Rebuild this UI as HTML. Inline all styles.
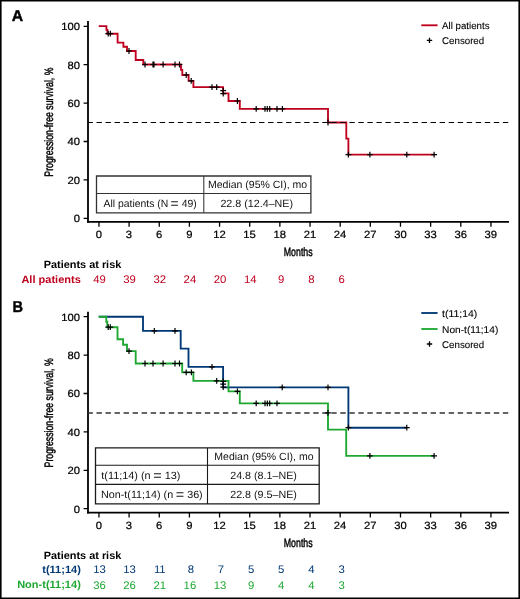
<!DOCTYPE html>
<html lang="en"><head><meta charset="utf-8"><title>Progression-free survival</title>
<style>
html,body{margin:0;padding:0;background:#fff;}
body{width:520px;height:599px;overflow:hidden;}
svg{display:block;font-family:"Liberation Sans",Arial,Helvetica,sans-serif;}
text{stroke-linejoin:round;text-rendering:geometricPrecision;}
.t{font-size:10.5px;fill:#000;stroke:#000;stroke-width:0.22px;}
.n{font-size:11px;stroke-width:0;}
.l{font-size:9.8px;fill:#000;stroke:#000;stroke-width:0.1px;}
.s{font-size:10.5px;fill:#111;}
.b{font-size:10.6px;font-weight:bold;fill:#000;stroke-width:0;}
.c{font-size:12.2px;fill:#000;stroke:#000;stroke-width:0.45px;}
.pl{font-size:15.8px;font-weight:bold;fill:#000;stroke:#000;stroke-width:0.4px;}
</style></head><body>
<svg width="520" height="599" viewBox="0 0 520 599">
<rect x="0" y="0" width="520" height="599" fill="#fff"/>
<path d="M0.8 0.75H519.2V598.2H0.8Z" fill="none" stroke="#000" stroke-width="1.6"/>

<g id="panelA">
<path d="M88 21.00V222.65" fill="none" stroke="#000" stroke-width="1.8"/>
<path d="M87.1 221.80H509" fill="none" stroke="#000" stroke-width="1.7"/>
<path d="M83.6 26.30H88M83.6 64.70H88M83.6 103.10H88M83.6 141.50H88M83.6 179.90H88M83.6 218.30H88M98.95 221.65V226.70M129.10 221.65V226.70M159.26 221.65V226.70M189.41 221.65V226.70M219.57 221.65V226.70M249.72 221.65V226.70M279.87 221.65V226.70M310.03 221.65V226.70M340.18 221.65V226.70M370.33 221.65V226.70M400.49 221.65V226.70M430.64 221.65V226.70M460.80 221.65V226.70M490.95 221.65V226.70" fill="none" stroke="#000" stroke-width="1.3"/>
<text transform="translate(80.00 30.15) scale(1.070 1)" class="t" text-anchor="end">100</text>
<text transform="translate(80.00 68.55) scale(1.070 1)" class="t" text-anchor="end">80</text>
<text transform="translate(80.00 106.95) scale(1.070 1)" class="t" text-anchor="end">60</text>
<text transform="translate(80.00 145.35) scale(1.070 1)" class="t" text-anchor="end">40</text>
<text transform="translate(80.00 183.75) scale(1.070 1)" class="t" text-anchor="end">20</text>
<text transform="translate(80.00 222.15) scale(1.070 1)" class="t" text-anchor="end">0</text>
<text transform="translate(98.85 238.10) scale(1.070 1)" class="t" text-anchor="middle">0</text>
<text transform="translate(129.00 238.10) scale(1.070 1)" class="t" text-anchor="middle">3</text>
<text transform="translate(159.16 238.10) scale(1.070 1)" class="t" text-anchor="middle">6</text>
<text transform="translate(189.31 238.10) scale(1.070 1)" class="t" text-anchor="middle">9</text>
<text transform="translate(219.47 238.10) scale(1.070 1)" class="t" text-anchor="middle">12</text>
<text transform="translate(249.62 238.10) scale(1.070 1)" class="t" text-anchor="middle">15</text>
<text transform="translate(279.77 238.10) scale(1.070 1)" class="t" text-anchor="middle">18</text>
<text transform="translate(309.93 238.10) scale(1.070 1)" class="t" text-anchor="middle">21</text>
<text transform="translate(340.08 238.10) scale(1.070 1)" class="t" text-anchor="middle">24</text>
<text transform="translate(370.23 238.10) scale(1.070 1)" class="t" text-anchor="middle">27</text>
<text transform="translate(400.39 238.10) scale(1.070 1)" class="t" text-anchor="middle">30</text>
<text transform="translate(430.54 238.10) scale(1.070 1)" class="t" text-anchor="middle">33</text>
<text transform="translate(460.70 238.10) scale(1.070 1)" class="t" text-anchor="middle">36</text>
<text transform="translate(490.85 238.10) scale(1.070 1)" class="t" text-anchor="middle">39</text>
<text transform="translate(298.20 256.00) scale(0.720 1)" class="c" text-anchor="middle">Months</text>
<text transform="translate(52.60 122.10) rotate(-90) scale(0.716 1)" class="c" text-anchor="middle">Progression-free survival, %</text>
<text transform="translate(11.80 21.05)" class="pl">A</text>
<text transform="translate(121.30 268.10) scale(1.030 1)" class="b" text-anchor="end">Patients at risk</text>
<path d="M98.75 26.15 L106.40 26.15 L106.40 29.90 L107.40 29.90 L107.40 33.70 L117.60 33.70 L117.60 42.60 L123.40 42.60 L123.40 46.70 L127.00 46.70 L127.00 51.00 L135.70 51.00 L135.70 60.00 L143.30 60.00 L143.30 64.50 L181.00 64.50 L181.00 69.80 L182.30 69.80 L182.30 75.00 L188.60 75.00 L188.60 80.80 L193.40 80.80 L193.40 87.10 L223.10 87.10 L223.10 93.40 L228.50 93.40 L228.50 101.00 L239.80 101.00 L239.80 108.90 L328.00 108.90 L328.00 122.50 L346.30 122.50 L346.30 138.60 L348.40 138.60 L348.40 154.55 L434.10 154.55" fill="none" stroke="#be001e" stroke-width="1.85" stroke-linejoin="miter"/>
<path d="M87.47 122.50H508.25" fill="none" stroke="#000" stroke-width="1.20" stroke-dasharray="5.4 3.63"/>
<path d="M105.30 33.70H111.10M108.20 30.80V36.60M107.40 33.70H113.20M110.30 30.80V36.60M126.10 51.00H131.90M129.00 48.10V53.90M142.10 64.50H147.90M145.00 61.60V67.40M150.10 64.50H155.90M153.00 61.60V67.40M151.10 64.50H156.90M154.00 61.60V67.40M160.20 64.50H166.00M163.10 61.60V67.40M172.10 64.50H177.90M175.00 61.60V67.40M176.60 64.50H182.40M179.50 61.60V67.40M183.30 75.00H189.10M186.20 72.10V77.90M188.30 80.80H194.10M191.20 77.90V83.70M209.10 87.10H214.90M212.00 84.20V90.00M213.80 87.10H219.60M216.70 84.20V90.00M220.30 90.60H226.10M223.20 87.70V93.50M220.30 93.60H226.10M223.20 90.70V96.50M234.50 101.00H240.30M237.40 98.10V103.90M253.30 108.90H259.10M256.20 106.00V111.80M262.10 108.90H267.90M265.00 106.00V111.80M264.40 108.90H270.20M267.30 106.00V111.80M266.80 108.90H272.60M269.70 106.00V111.80M274.10 108.90H279.90M277.00 106.00V111.80M279.50 108.90H285.30M282.40 106.00V111.80M325.10 122.50H330.90M328.00 119.60V125.40M345.50 154.55H351.30M348.40 151.65V157.45M367.00 154.55H372.80M369.90 151.65V157.45M403.90 154.55H409.70M406.80 151.65V157.45M431.20 154.55H437.00M434.10 151.65V157.45" fill="none" stroke="#000" stroke-width="1.20"/>
<path d="M421.3 25.3H437.6" stroke="#be001e" stroke-width="1.85"/>
<text transform="translate(442.10 28.90) scale(0.990 1)" class="l">All patients</text>
<path d="M426.80 40.40H432.20M429.50 37.70V43.10" fill="none" stroke="#000" stroke-width="1.30"/>
<text transform="translate(442.10 43.90) scale(0.990 1)" class="l">Censored</text>
<path d="M96.5 176H310.9V212.8H96.5Z" fill="#fff" stroke="#333" stroke-width="1.3"/>
<path d="M96.5 193.5H310.9M203.8 176V212.8" fill="none" stroke="#333" stroke-width="1.05"/>
<text transform="translate(208.00 188.10)" class="s">Median (95% CI), mo</text>
<text transform="translate(103.50 206.80) scale(0.990 1)" class="s">All patients (N <tspan dx="-0.5" dy="1.3" style="font-size:14px">=</tspan><tspan dx="0.1" dy="-1.3"> </tspan>49)</text>
<text transform="translate(220.40 206.80) scale(1.020 1)" class="s">22.8 (12.4–NE)</text>
<text transform="translate(80.80 282.50) scale(1.040 1)" class="b" text-anchor="end" style="fill:#be001e;stroke:#be001e">All patients</text>
<text transform="translate(99.45 282.90) scale(1.030 1)" class="n" text-anchor="middle" style="fill:#be001e;stroke:#be001e">49</text>
<text transform="translate(129.60 282.90) scale(1.030 1)" class="n" text-anchor="middle" style="fill:#be001e;stroke:#be001e">39</text>
<text transform="translate(159.76 282.90) scale(1.030 1)" class="n" text-anchor="middle" style="fill:#be001e;stroke:#be001e">32</text>
<text transform="translate(189.91 282.90) scale(1.030 1)" class="n" text-anchor="middle" style="fill:#be001e;stroke:#be001e">24</text>
<text transform="translate(220.07 282.90) scale(1.030 1)" class="n" text-anchor="middle" style="fill:#be001e;stroke:#be001e">20</text>
<text transform="translate(250.22 282.90) scale(1.030 1)" class="n" text-anchor="middle" style="fill:#be001e;stroke:#be001e">14</text>
<text transform="translate(281.27 282.90) scale(1.030 1)" class="n" text-anchor="middle" style="fill:#be001e;stroke:#be001e">9</text>
<text transform="translate(311.43 282.90) scale(1.030 1)" class="n" text-anchor="middle" style="fill:#be001e;stroke:#be001e">8</text>
<text transform="translate(341.58 282.90) scale(1.030 1)" class="n" text-anchor="middle" style="fill:#be001e;stroke:#be001e">6</text>
</g>
<g id="panelB">
<path d="M88 311.75V513.50" fill="none" stroke="#000" stroke-width="1.8"/>
<path d="M87.1 512.65H509" fill="none" stroke="#000" stroke-width="1.7"/>
<path d="M83.6 316.70H88M83.6 355.10H88M83.6 393.50H88M83.6 431.90H88M83.6 470.30H88M83.6 508.70H88M98.95 512.40V517.45M129.10 512.40V517.45M159.26 512.40V517.45M189.41 512.40V517.45M219.57 512.40V517.45M249.72 512.40V517.45M279.87 512.40V517.45M310.03 512.40V517.45M340.18 512.40V517.45M370.33 512.40V517.45M400.49 512.40V517.45M430.64 512.40V517.45M460.80 512.40V517.45M490.95 512.40V517.45" fill="none" stroke="#000" stroke-width="1.3"/>
<text transform="translate(80.00 320.55) scale(1.070 1)" class="t" text-anchor="end">100</text>
<text transform="translate(80.00 358.95) scale(1.070 1)" class="t" text-anchor="end">80</text>
<text transform="translate(80.00 397.35) scale(1.070 1)" class="t" text-anchor="end">60</text>
<text transform="translate(80.00 435.75) scale(1.070 1)" class="t" text-anchor="end">40</text>
<text transform="translate(80.00 474.15) scale(1.070 1)" class="t" text-anchor="end">20</text>
<text transform="translate(80.00 512.55) scale(1.070 1)" class="t" text-anchor="end">0</text>
<text transform="translate(98.85 528.85) scale(1.070 1)" class="t" text-anchor="middle">0</text>
<text transform="translate(129.00 528.85) scale(1.070 1)" class="t" text-anchor="middle">3</text>
<text transform="translate(159.16 528.85) scale(1.070 1)" class="t" text-anchor="middle">6</text>
<text transform="translate(189.31 528.85) scale(1.070 1)" class="t" text-anchor="middle">9</text>
<text transform="translate(219.47 528.85) scale(1.070 1)" class="t" text-anchor="middle">12</text>
<text transform="translate(249.62 528.85) scale(1.070 1)" class="t" text-anchor="middle">15</text>
<text transform="translate(279.77 528.85) scale(1.070 1)" class="t" text-anchor="middle">18</text>
<text transform="translate(309.93 528.85) scale(1.070 1)" class="t" text-anchor="middle">21</text>
<text transform="translate(340.08 528.85) scale(1.070 1)" class="t" text-anchor="middle">24</text>
<text transform="translate(370.23 528.85) scale(1.070 1)" class="t" text-anchor="middle">27</text>
<text transform="translate(400.39 528.85) scale(1.070 1)" class="t" text-anchor="middle">30</text>
<text transform="translate(430.54 528.85) scale(1.070 1)" class="t" text-anchor="middle">33</text>
<text transform="translate(460.70 528.85) scale(1.070 1)" class="t" text-anchor="middle">36</text>
<text transform="translate(490.85 528.85) scale(1.070 1)" class="t" text-anchor="middle">39</text>
<text transform="translate(298.20 546.75) scale(0.720 1)" class="c" text-anchor="middle">Months</text>
<text transform="translate(52.60 412.85) rotate(-90) scale(0.716 1)" class="c" text-anchor="middle">Progression-free survival, %</text>
<text transform="translate(12.55 311.95) scale(0.920 1)" class="pl">B</text>
<text transform="translate(121.30 558.85) scale(1.030 1)" class="b" text-anchor="end">Patients at risk</text>
<path d="M87.47 413.05H508.25" fill="none" stroke="#333" stroke-width="1.60" stroke-dasharray="5.4 3.63"/>
<path d="M98.75 316.75 L143.00 316.75 L143.00 330.90 L180.70 330.90 L180.70 348.60 L188.50 348.60 L188.50 366.80 L223.10 366.80 L223.10 387.30 L348.40 387.30 L348.40 427.70 L406.80 427.70" fill="none" stroke="#003876" stroke-width="1.85"/>
<path d="M98.75 316.75 L106.30 316.75 L106.30 321.70 L107.30 321.70 L107.30 327.20 L117.50 327.20 L117.50 339.20 L123.10 339.20 L123.10 344.70 L127.00 344.70 L127.00 351.10 L135.70 351.10 L135.70 363.50 L182.20 363.50 L182.20 372.30 L193.40 372.30 L193.40 380.90 L228.50 380.90 L228.50 391.40 L239.80 391.40 L239.80 403.40 L328.00 403.40 L328.00 429.60 L346.20 429.60 L346.20 455.80 L434.10 455.80" fill="none" stroke="#1ea832" stroke-width="1.85"/>
<path d="M151.40 330.90H157.20M154.30 328.00V333.80M172.10 330.90H177.90M175.00 328.00V333.80M209.10 366.80H214.90M212.00 363.90V369.70M279.30 387.30H285.10M282.20 384.40V390.20M325.10 387.30H330.90M328.00 384.40V390.20M345.50 427.70H351.30M348.40 424.80V430.60M403.90 427.70H409.70M406.80 424.80V430.60M105.30 327.20H111.10M108.20 324.30V330.10M107.40 327.20H113.20M110.30 324.30V330.10M126.10 351.10H131.90M129.00 348.20V354.00M142.10 363.50H147.90M145.00 360.60V366.40M150.10 363.50H155.90M153.00 360.60V366.40M160.20 363.50H166.00M163.10 360.60V366.40M172.10 363.50H177.90M175.00 360.60V366.40M176.60 363.50H182.40M179.50 360.60V366.40M183.30 372.30H189.10M186.20 369.40V375.20M188.50 372.30H194.30M191.40 369.40V375.20M213.80 380.90H219.60M216.70 378.00V383.80M220.30 381.30H226.10M223.20 378.40V384.20M220.30 384.20H226.10M223.20 381.30V387.10M220.30 387.20H226.10M223.20 384.30V390.10M234.50 391.40H240.30M237.40 388.50V394.30M253.30 403.40H259.10M256.20 400.50V406.30M262.10 403.40H267.90M265.00 400.50V406.30M264.40 403.40H270.20M267.30 400.50V406.30M266.80 403.40H272.60M269.70 400.50V406.30M274.10 403.40H279.90M277.00 400.50V406.30M325.10 412.80H330.90M328.00 409.90V415.70M367.00 455.80H372.80M369.90 452.90V458.70M431.20 455.80H437.00M434.10 452.90V458.70" fill="none" stroke="#000" stroke-width="1.20"/>
<path d="M421.3 313H437.6" stroke="#003876" stroke-width="1.85"/>
<text transform="translate(442.10 317.00) scale(1.065 1)" class="l">t(11;14)</text>
<path d="M421.3 329H437.6" stroke="#1ea832" stroke-width="1.85"/>
<text transform="translate(442.10 332.60) scale(1.035 1)" class="l">Non-t(11;14)</text>
<path d="M426.80 344.00H432.20M429.50 341.30V346.70" fill="none" stroke="#000" stroke-width="1.30"/>
<text transform="translate(442.10 347.60) scale(0.990 1)" class="l">Censored</text>
<path d="M95.5 447.9H319.2V503.9H95.5Z" fill="#fff" stroke="#1a1a1a" stroke-width="1.3"/>
<path d="M95.5 465.2H319.2M95.5 484.4H319.2M207.5 447.9V503.9" fill="none" stroke="#1a1a1a" stroke-width="1.1"/>
<text transform="translate(214.30 460.30)" class="s">Median (95% CI), mo</text>
<text transform="translate(101.30 479.00) scale(1.035 1)" class="s">t(11;14) (n <tspan dx="-0.5" dy="1.3" style="font-size:14px">=</tspan><tspan dx="0.1" dy="-1.3"> </tspan>13)</text>
<text transform="translate(101.00 497.80) scale(1.025 1)" class="s">Non-t(11;14) (n <tspan dx="-0.5" dy="1.3" style="font-size:14px">=</tspan><tspan dx="0.1" dy="-1.3"> </tspan>36)</text>
<text transform="translate(230.20 479.00) scale(1.020 1)" class="s">24.8 (8.1–NE)</text>
<text transform="translate(230.20 497.80) scale(1.020 1)" class="s">22.8 (9.5–NE)</text>
<text transform="translate(80.80 572.80) scale(1.040 1)" class="b" text-anchor="end" style="fill:#003876;stroke:#003876">t(11;14)</text>
<text transform="translate(80.80 588.20) scale(1.040 1)" class="b" text-anchor="end" style="fill:#1ea832;stroke:#1ea832">Non-t(11;14)</text>
<text transform="translate(99.45 573.20) scale(1.030 1)" class="n" text-anchor="middle" style="fill:#003876;stroke:#003876">13</text>
<text transform="translate(129.60 573.20) scale(1.030 1)" class="n" text-anchor="middle" style="fill:#003876;stroke:#003876">13</text>
<text transform="translate(159.76 573.20) scale(1.030 1)" class="n" text-anchor="middle" style="fill:#003876;stroke:#003876">11</text>
<text transform="translate(190.81 573.20) scale(1.030 1)" class="n" text-anchor="middle" style="fill:#003876;stroke:#003876">8</text>
<text transform="translate(220.97 573.20) scale(1.030 1)" class="n" text-anchor="middle" style="fill:#003876;stroke:#003876">7</text>
<text transform="translate(251.12 573.20) scale(1.030 1)" class="n" text-anchor="middle" style="fill:#003876;stroke:#003876">5</text>
<text transform="translate(281.27 573.20) scale(1.030 1)" class="n" text-anchor="middle" style="fill:#003876;stroke:#003876">5</text>
<text transform="translate(311.43 573.20) scale(1.030 1)" class="n" text-anchor="middle" style="fill:#003876;stroke:#003876">4</text>
<text transform="translate(341.58 573.20) scale(1.030 1)" class="n" text-anchor="middle" style="fill:#003876;stroke:#003876">3</text>
<text transform="translate(99.45 589.00) scale(1.030 1)" class="n" text-anchor="middle" style="fill:#1ea832;stroke:#1ea832">36</text>
<text transform="translate(129.60 589.00) scale(1.030 1)" class="n" text-anchor="middle" style="fill:#1ea832;stroke:#1ea832">26</text>
<text transform="translate(159.76 589.00) scale(1.030 1)" class="n" text-anchor="middle" style="fill:#1ea832;stroke:#1ea832">21</text>
<text transform="translate(189.91 589.00) scale(1.030 1)" class="n" text-anchor="middle" style="fill:#1ea832;stroke:#1ea832">16</text>
<text transform="translate(220.07 589.00) scale(1.030 1)" class="n" text-anchor="middle" style="fill:#1ea832;stroke:#1ea832">13</text>
<text transform="translate(251.12 589.00) scale(1.030 1)" class="n" text-anchor="middle" style="fill:#1ea832;stroke:#1ea832">9</text>
<text transform="translate(281.27 589.00) scale(1.030 1)" class="n" text-anchor="middle" style="fill:#1ea832;stroke:#1ea832">4</text>
<text transform="translate(311.43 589.00) scale(1.030 1)" class="n" text-anchor="middle" style="fill:#1ea832;stroke:#1ea832">4</text>
<text transform="translate(341.58 589.00) scale(1.030 1)" class="n" text-anchor="middle" style="fill:#1ea832;stroke:#1ea832">3</text>
</g>
</svg>
</body></html>
